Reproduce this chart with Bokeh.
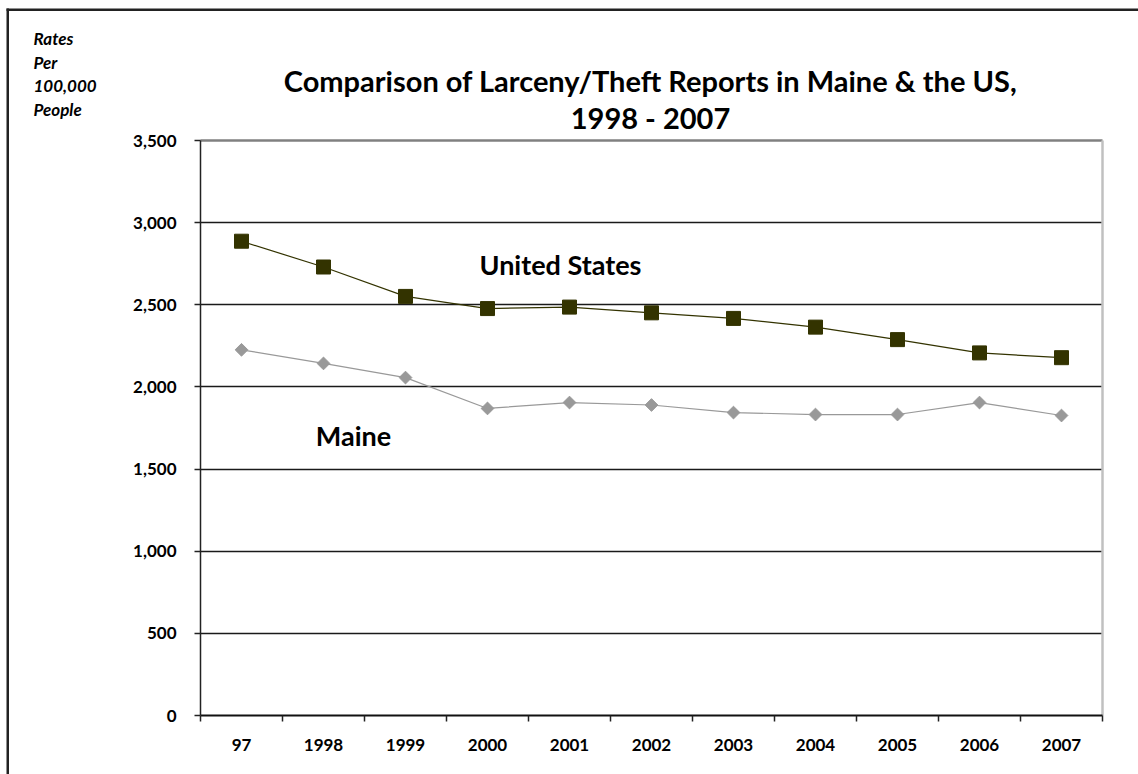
from bokeh.plotting import figure
from bokeh.models import Range1d, FixedTicker, NumeralTickFormatter, Label, Grid, BoxAnnotation
from bokeh.embed import file_html
from bokeh.resources import INLINE
import math

years = ["97", "1998", "1999", "2000", "2001", "2002", "2003", "2004", "2005", "2006", "2007"]
us_rates = [2887, 2730, 2551, 2477, 2486, 2451, 2417, 2364, 2288, 2207, 2178]
maine_rates = [2226, 2143, 2057, 1869, 1905, 1890, 1844, 1832, 1832, 1905, 1826]
y_ticks = [0, 500, 1000, 1500, 2000, 2500, 3000, 3500]
grid_ticks = [500, 1000, 1500, 2000, 2500, 3000]
title_lines = ["Comparison of Larceny/Theft Reports in Maine & the US,", "1998 - 2007"]
unit_lines = ["Rates", "Per", "100,000", "People"]

FONT = "Lato"
W, H = 1138, 774
# layout in page pixels: plot area left/bottom and scale
PLOT_LEFT, PLOT_BOTTOM, CAT_PX = 200, 715, 82
YMAX = 3500
PPU = 575 / YMAX  # pixels per unit


def dx(sx):
    return (sx - PLOT_LEFT) / CAT_PX


def dy(sy):
    return (PLOT_BOTTOM - sy) / PPU


n = len(years)
xs = [i + 0.5 for i in range(n)]

p = figure(width=W, height=H, output_backend="svg", toolbar_location=None,
           x_range=Range1d(dx(0), dx(W)), y_range=Range1d(dy(H), dy(0)),
           min_border=0)
p.outline_line_color = None
p.background_fill_color = "white"
p.border_fill_color = "white"

# x axis
p.xaxis.fixed_location = 0
p.xaxis.bounds = (0, n)
p.xaxis.ticker = FixedTicker(ticks=xs, minor_ticks=list(range(n + 1)))
p.xaxis.major_label_overrides = {x: y for x, y in zip(xs, years)}
p.xaxis.major_tick_line_color = None
p.xaxis.major_tick_out = 0
p.xaxis.major_tick_in = 0
p.xaxis.minor_tick_line_color = "#222222"
p.xaxis.minor_tick_out = 6
p.xaxis.minor_tick_in = 0
p.xaxis.minor_tick_line_width = 1.5
p.xaxis.axis_line_color = "#111111"
p.xaxis.axis_line_width = 2
p.xaxis.major_label_standoff = 17
p.xaxis.major_label_text_font = FONT
p.xaxis.major_label_text_font_style = "bold"
p.xaxis.major_label_text_font_size = "17px"
p.xaxis.major_label_text_color = "black"

# y axis
p.yaxis.fixed_location = 0
p.yaxis.bounds = (0, YMAX)
p.yaxis.ticker = FixedTicker(ticks=y_ticks)
p.yaxis.formatter = NumeralTickFormatter(format="0,0")
p.yaxis.major_tick_out = 6
p.yaxis.major_tick_in = 0
p.yaxis.major_tick_line_color = "#222222"
p.yaxis.major_tick_line_width = 1.5
p.yaxis.minor_tick_line_color = None
p.yaxis.axis_line_color = "#222222"
p.yaxis.axis_line_width = 1.5
p.yaxis.major_label_standoff = 18
p.yaxis.major_label_text_font = FONT
p.yaxis.major_label_text_font_style = "bold"
p.yaxis.major_label_text_font_size = "17px"
p.yaxis.major_label_text_color = "black"

p.xgrid.visible = False
p.ygrid.ticker = FixedTicker(ticks=grid_ticks)
p.ygrid.cross_bounds = (0, n)
p.ygrid.grid_line_color = "#1a1a1a"
p.ygrid.grid_line_width = 1.3

# plot-area border: grey top and right edges
p.add_layout(Grid(dimension=1, ticker=FixedTicker(ticks=[YMAX]), cross_bounds=(0, n),
                  grid_line_color="#808080", grid_line_width=2.5))
p.add_layout(Grid(dimension=0, ticker=FixedTicker(ticks=[n]), cross_bounds=(0, YMAX),
                  grid_line_color="#c0c0c0", grid_line_width=2.5))

# outer chart border (left and top edges visible in the picture)
p.add_layout(BoxAnnotation(left=dx(6), right=dx(8.5), top=dy(8), bottom=dy(H + 20),
                           fill_color="#222222", fill_alpha=1.0, line_color=None))
p.add_layout(BoxAnnotation(left=dx(6), right=dx(W + 20), top=dy(8), bottom=dy(10.5),
                           fill_color="#222222", fill_alpha=1.0, line_color=None))

# series
p.line(xs, us_rates, line_color="#333300", line_width=1.2)
p.scatter(xs, us_rates, marker="square", size=14, fill_color="#333300", line_color="#333300")
p.line(xs, maine_rates, line_color="#999999", line_width=1.2)
p.scatter(xs, maine_rates, marker="square", angle=math.pi / 4, size=9,
          fill_color="#999999", line_color="#999999")

# texts
for t, sy in zip(title_lines, [80, 117]):
    p.add_layout(Label(x=dx(650), y=dy(sy), text=t,
                       text_align="center", text_baseline="middle", text_font=FONT,
                       text_font_style="bold", text_font_size="29px", text_color="black"))

for i, t in enumerate(unit_lines):
    p.add_layout(Label(x=dx(33), y=dy(38 + i * 23.5), text=t, text_align="left",
                       text_baseline="middle", text_font=FONT,
                       text_font_style="bold italic", text_font_size="17px", text_color="black"))

p.add_layout(Label(x=dx(560), y=dy(264), text="United States",
                   text_align="center", text_baseline="middle", text_font=FONT,
                   text_font_style="bold", text_font_size="27px", text_color="black"))
p.add_layout(Label(x=dx(353), y=dy(435), text="Maine",
                   text_align="center", text_baseline="middle", text_font=FONT,
                   text_font_style="bold", text_font_size="27px", text_color="black"))

open("out.html", "w").write(file_html(p, INLINE))
